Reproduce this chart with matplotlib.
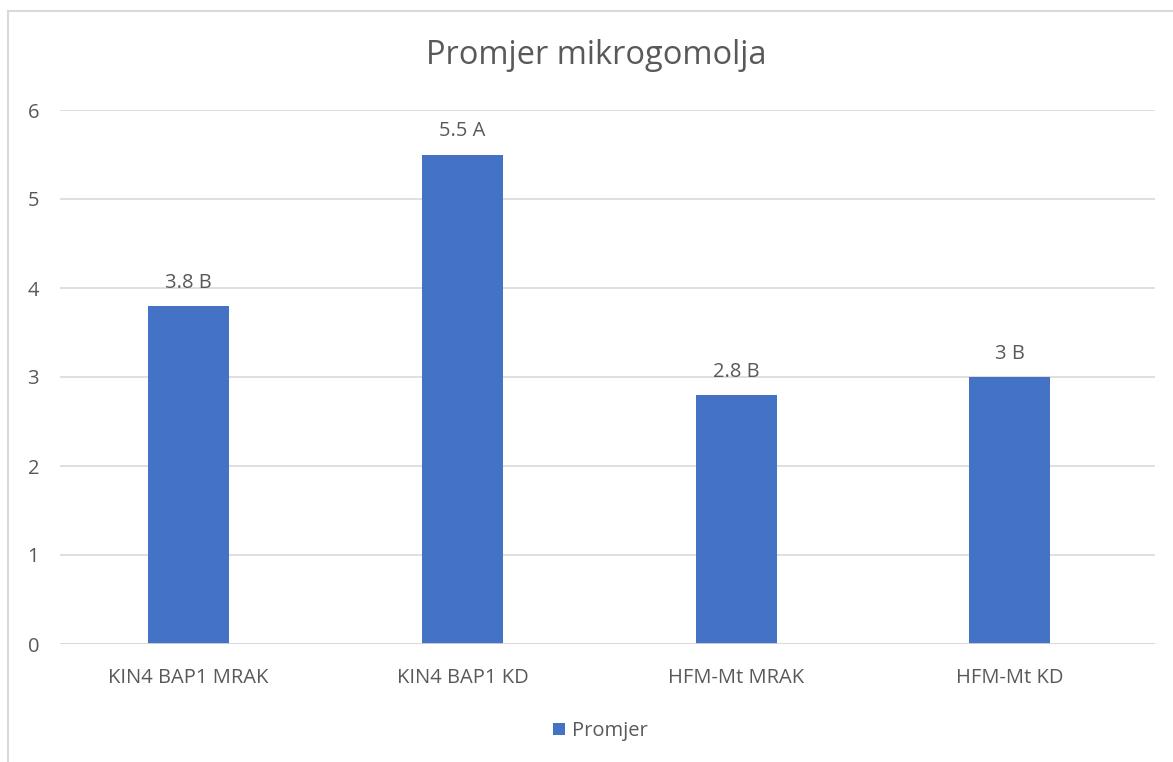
import matplotlib.pyplot as plt
from matplotlib.patches import Rectangle

categories = ['KIN4 BAP1 MRAK', 'KIN4 BAP1 KD', 'HFM-Mt MRAK', 'HFM-Mt KD']
promjer = [3.8, 5.5, 2.8, 3]
labels = ['3.8 B', '5.5 A', '2.8 B', '3 B']

plt.rcParams['font.family'] = ['Open Sans', 'DejaVu Sans']
text_col = '#595959'
grid_col = '#D9D9D9'
bar_col = '#4472C4'

fig = plt.figure(figsize=(11.73, 7.62), dpi=100)
# chart border (cropped on the right and bottom)
fig.patches.append(Rectangle((8 / 1173, -0.01), 1.2, 1 - 11 / 762 + 0.01,
                             transform=fig.transFigure, fill=False,
                             edgecolor=grid_col, linewidth=1.5))

ax = fig.add_axes([60 / 1173, 1 - 644 / 762, 1095 / 1173, 534 / 762])
x = range(len(categories))
bars = ax.bar(x, promjer, width=0.296, color=bar_col, label='Promjer', zorder=3)

for b, lab in zip(bars, labels):
    ax.annotate(lab, (b.get_x() + b.get_width() / 2, b.get_height()),
                xytext=(0, 9.5), textcoords='offset points',
                ha='center', va='bottom', fontsize=14.5, color=text_col)

ax.set_xlim(-0.47, 3.53)
ax.set_ylim(0, 6)
ax.set_yticks(range(0, 7))
ax.set_xticks(list(x))
ax.set_xticklabels(categories)
ax.tick_params(axis='both', length=0, labelsize=14.5, labelcolor=text_col)
ax.tick_params(axis='y', pad=15)
ax.tick_params(axis='x', pad=17.5)
ax.grid(axis='y', color=grid_col, linewidth=1.2, zorder=0)
for s in ax.spines.values():
    s.set_visible(False)
ax.axhline(0, color=grid_col, linewidth=1.2, zorder=4)

fig.text(596 / 1173, 1 - 56 / 762, 'Promjer mikrogomolja', ha='center', va='center',
         fontsize=23.5, color=text_col)

fig.legend(loc='center', bbox_to_anchor=(600 / 1173, 1 - 731 / 762), frameon=False,
           fontsize=14.5, labelcolor=text_col, handlelength=0.6, handleheight=0.6,
           handletextpad=0.35)

fig.savefig('out.png', dpi=100)
